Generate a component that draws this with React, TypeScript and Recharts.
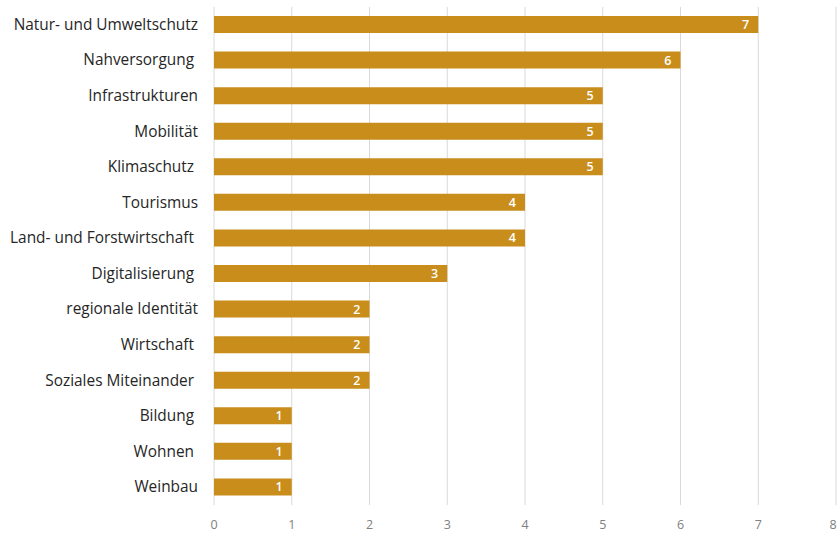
import { BarChart, Bar, XAxis, YAxis, CartesianGrid, LabelList } from 'recharts';

// Anzahl Nennungen je Themenfeld
const themen = [
  'Natur- und Umweltschutz',
  'Nahversorgung\u00A0',
  'Infrastrukturen',
  'Mobilität',
  'Klimaschutz\u00A0',
  'Tourismus',
  'Land- und Forstwirtschaft\u00A0',
  'Digitalisierung\u00A0',
  'regionale Identität',
  'Wirtschaft\u00A0',
  'Soziales Miteinander\u00A0',
  'Bildung\u00A0',
  'Wohnen\u00A0',
  'Weinbau',
];
const nennungen = [7, 6, 5, 5, 5, 4, 4, 3, 2, 2, 2, 1, 1, 1];
const xTicks = [0, 1, 2, 3, 4, 5, 6, 7, 8];

const BAR_COLOR = '#C98D1B';
const FONT = '"Open Sans", Lato, sans-serif';

const data = themen.map((thema, i) => ({ thema, anzahl: nennungen[i] }));

// eigene Tick-Renderer, damit die Farbe sicher stimmt
function XTick({ x, y, payload }: any) {
  return (
    <text x={x} y={y} dy={10} textAnchor="middle" fill="#808080" fontSize={12.5} fontFamily={FONT}>
      {payload.value}
    </text>
  );
}

function YTick({ x, y, payload }: any) {
  return (
    <text x={x} y={y} dy={5} textAnchor="end" fill="#262626" fontSize={15.4} fontFamily={FONT}>
      {payload.value}
    </text>
  );
}

export default function App() {
  return (
    <div style={{ position: 'absolute', left: 0, top: 0, width: 837, height: 533, background: '#fff' }}>
      <BarChart
        width={837}
        height={533}
        data={data}
        layout="vertical"
        margin={{ top: 7, right: 1, bottom: 0, left: 0 }}
      >
        <CartesianGrid horizontal={false} stroke="#d9d9d9" />
        <XAxis
          type="number"
          domain={[0, 8]}
          ticks={xTicks}
          axisLine={false}
          tickLine={false}
          height={28}
          tickMargin={8}
          tick={<XTick />}
        />
        <YAxis
          type="category"
          dataKey="thema"
          width={214}
          axisLine={false}
          tickLine={false}
          tickSize={0}
          tickMargin={16}
          interval={0}
          tick={<YTick />}
        />
        <Bar dataKey="anzahl" fill={BAR_COLOR} barSize={17} isAnimationActive={false}>
          <LabelList
            dataKey="anzahl"
            position="insideRight"
            offset={9}
            fill="#ffffff"
            fontSize={12.5}
            fontWeight={600}
            fontFamily={FONT}
          />
        </Bar>
      </BarChart>
    </div>
  );
}
